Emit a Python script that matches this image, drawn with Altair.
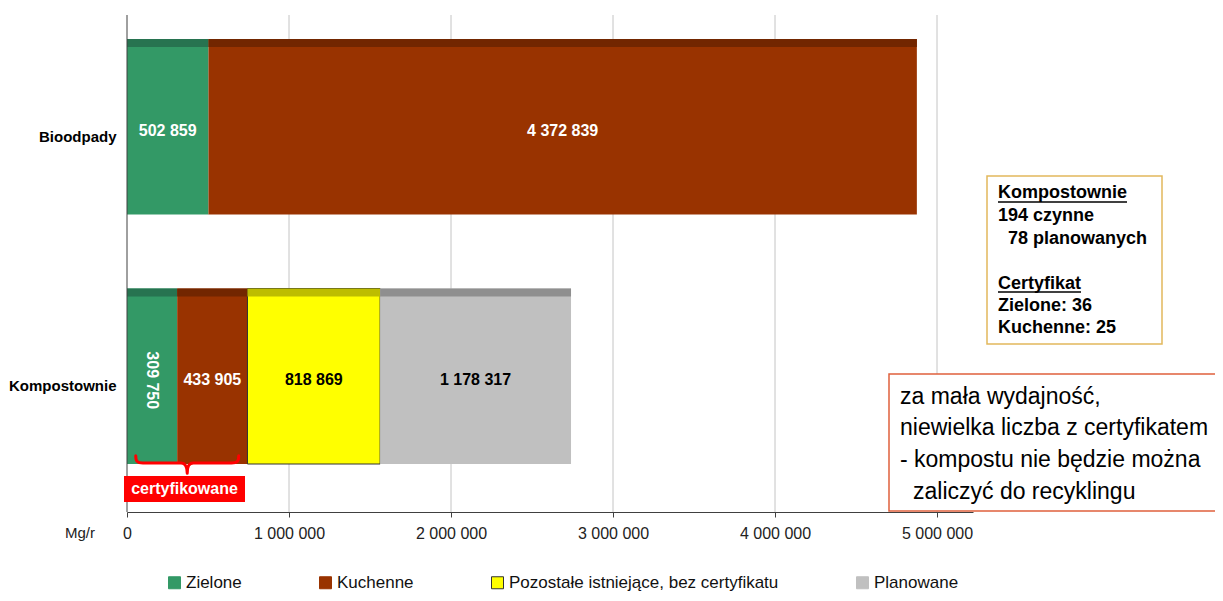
import altair as alt
import pandas as pd

# ---------------- data ----------------
categories = ["Bioodpady", "Kompostownie"]
series = ["Zielone", "Kuchenne", "Pozostałe istniejące, bez certyfikatu", "Planowane"]
bioodpady = [502859, 4372839, None, None]
kompostownie = [309750, 433905, 818869, 1178317]
x_ticks = [0, 1000000, 2000000, 3000000, 4000000, 5000000]

box1_lines = ["Kompostownie", "194 czynne", "78 planowanych", "Certyfikat", "Zielone: 36", "Kuchenne: 25"]
box2_lines = ["za mała wydajność,", "niewielka liczba z certyfikatem",
              "- kompostu nie będzie można", "zaliczyć do recyklingu"]

# ---------------- styles ----------------
colors = ["#339966", "#993300", "#FFFF00", "#C0C0C0"]
edges = ["#339966", "#993300", "#333333", "#C0C0C0"]
dark = ["#277350", "#722600", "#BDBD00", "#8F8F8F"]
FONT = "Liberation Sans"
W, H = 846, 497

rows = []
for cat, vals in zip(categories, [bioodpady, kompostownie]):
    for i, (s, v) in enumerate(zip(series, vals)):
        if v is not None:
            rows.append({"cat": cat, "series": s, "idx": i, "value": v})
df = pd.DataFrame(rows)

yscale = alt.Scale(domain=categories, range=[24, 449], paddingInner=0.2966, paddingOuter=0)
xscale = alt.Scale(domain=[0, 5222222], nice=False, zero=True)
fmt = "replace(format(datum.value, ','), regexp(',', 'g'), ' ')"

legend_kw = dict(orient="none", legendX=39, legendY=559, direction="horizontal", title=None,
                 symbolType="square", symbolSize=144, symbolStrokeWidth=1,
                 labelFont=FONT, labelFontSize=17, labelColor="#111",
                 labelOffset=3, columnPadding=75, padding=0, labelLimit=400)

# gridlines (drawn from the tick values, behind the bars)
grid = alt.Chart(pd.DataFrame({"t": x_ticks[1:]})).mark_rule(
    color="#C4C4C4", strokeWidth=1
).encode(x=alt.X("t:Q", scale=xscale, title=None), y=alt.value(0), y2=alt.value(H))

base = alt.Chart(df)

bars = base.mark_bar().encode(
    y=alt.Y("cat:N", scale=yscale, sort=categories, title=None,
            axis=alt.Axis(domain=False, ticks=False, tickSize=0, grid=False,
                          labelFont=FONT, labelFontSize=15, labelFontWeight="bold",
                          labelColor="#000", labelPadding=11, labelOffset=10)),
    x=alt.X("value:Q", stack="zero", scale=xscale, title=None,
            axis=alt.Axis(values=x_ticks, labelExpr=fmt, grid=False,
                          domainColor="#404040", tickColor="#404040",
                          tickSize=5, labelFont=FONT, labelFontSize=16, labelColor="#222",
                          labelPadding=8, labelFlush=False, labelOverlap=False)),
    color=alt.Color("series:N", scale=alt.Scale(domain=series, range=colors),
                    legend=alt.Legend(**legend_kw)),
    stroke=alt.Stroke("series:N", scale=alt.Scale(domain=series, range=edges),
                      legend=alt.Legend(**legend_kw)),
    order=alt.Order("idx:Q"),
    strokeWidth=alt.condition("datum.idx == 2", alt.value(1), alt.value(0)),
)

strips = base.mark_bar(size=8, yOffset=-83.75).encode(
    y=alt.Y("cat:N", scale=yscale, sort=categories, title=None),
    x=alt.X("value:Q", stack="zero", scale=xscale, title=None),
    fill=alt.Fill("series:N", scale=alt.Scale(domain=series, range=dark), legend=None),
    order=alt.Order("idx:Q"),
)

lab = base.transform_stack(
    stack="value", groupby=["cat"], as_=["x0", "x1"], sort=[alt.SortField("idx")]
).transform_calculate(
    mid="(datum.x0 + datum.x1) / 2", label=fmt
)

def label_layer(flt, color, **kw):
    return lab.transform_filter(flt).mark_text(
        color=color, fontWeight="bold", fontSize=16, font=FONT, baseline="middle", **kw
    ).encode(
        x=alt.X("mid:Q", scale=xscale, title=None),
        y=alt.Y("cat:N", scale=yscale, sort=categories, title=None),
        text="label:N",
    )

lab_white = label_layer("datum.idx < 2 && datum.value >= 400000", "#FFFFFF", dy=4)
lab_rot = label_layer("datum.idx < 2 && datum.value < 400000", "#FFFFFF", angle=90, dx=4)
lab_black = label_layer("datum.idx >= 2", "#000000", dy=4)

one = pd.DataFrame({"k": [0]})

def txt(s, x, y, size, weight="normal", color="#000", align="left"):
    return alt.Chart(one).mark_text(
        fontSize=size, fontWeight=weight, color=color, align=align,
        baseline="middle", font=FONT
    ).encode(x=alt.value(x), y=alt.value(y), text=alt.value(s))

def rect(x1, x2, y1, y2, fill, stroke=None, sw=0):
    kw = dict(fill=fill, strokeWidth=sw)
    if stroke:
        kw["stroke"] = stroke
    return alt.Chart(one).mark_rect(**kw).encode(
        x=alt.value(x1), x2=alt.value(x2), y=alt.value(y1), y2=alt.value(y2))

def hline(x1, x2, y, color, w):
    return alt.Chart(one).mark_rule(color=color, strokeWidth=w).encode(
        x=alt.value(x1), x2=alt.value(x2), y=alt.value(y))

left_axis = alt.Chart(one).mark_rule(color="#404040", strokeWidth=1).encode(
    x=alt.value(0), y=alt.value(0), y2=alt.value(H))

# brace under the certified part of "Kompostownie"
brace_df = pd.DataFrame({"c": [(kompostownie[0] + kompostownie[1]) / 2]})
brace_path = ("M -1 -0.14 C -1 -0.03 -0.97 0 -0.86 0 L -0.12 0 C -0.03 0 0 0.07 0 0.2 "
              "C 0 0.07 0.03 0 0.12 0 L 0.86 0 C 0.97 0 1 -0.03 1 -0.14")
brace = alt.Chart(brace_df).mark_point(
    shape=brace_path, size=10609, filled=False, stroke="#FF0000", strokeWidth=3,
    opacity=1, strokeCap="round", strokeJoin="round"
).encode(x=alt.X("c:Q", scale=xscale, title=None), y=alt.value(448))

cert_rect = rect(-3, 118, 461, 487, "#FF0000")
cert_txt = txt("certyfikowane", 57.5, 474, 16, "bold", "#FFFFFF", "center")

# box 2
box2 = rect(762, 1110, 359, 496, "#FFFFFF", "#E0603C", 1.5)
b2_y = [382, 413, 445, 477]
b2_x = [773, 773, 773, 786]
box2_txt = [txt(s, x, y, 23) for s, x, y in zip(box2_lines, b2_x, b2_y)]

# box 1
box1 = rect(860, 1035, 161, 329, "#FFFFFF", "#E2B85C", 1.5)
b1_y = [178, 201, 224, 269, 291, 313]
b1_x = [871, 871, 881, 871, 871, 871]
box1_txt = [txt(s, x, y, 18, "bold") for s, x, y in zip(box1_lines, b1_x, b1_y)]
ul1 = hline(871, 1000, 187, "#000", 1.5)
ul2 = hline(871, 954, 277, "#000", 1.5)

unit = txt("Mg/r", -47, 518, 15, color="#222", align="center")

chart = alt.layer(
    grid, bars, strips, lab_white, lab_rot, lab_black, left_axis, brace, cert_rect, cert_txt,
    box2, *box2_txt, box1, *box1_txt, ul1, ul2, unit
).properties(
    width=W, height=H,
    padding={"left": 119, "top": 7, "right": 242, "bottom": 81},
    autosize=alt.AutoSizeParams(type="none"),
    background="white",
).configure_view(strokeWidth=0)

chart.save("out.html", embed_options={"renderer": "svg", "actions": False})
